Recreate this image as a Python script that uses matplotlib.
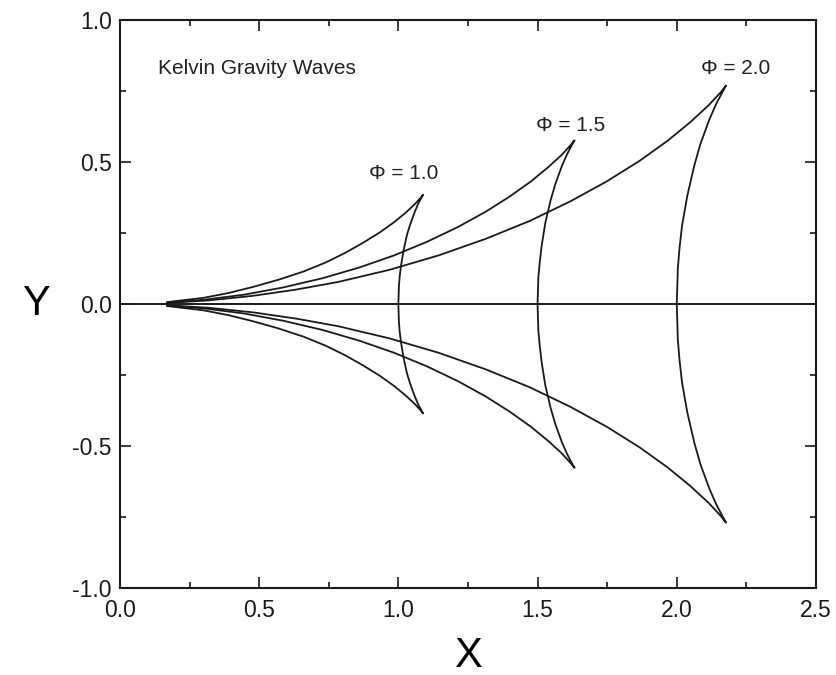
import numpy as np
import matplotlib.pyplot as plt
from matplotlib.ticker import MultipleLocator

plt.rcParams['font.family'] = ['Liberation Sans', 'DejaVu Sans']
plt.rcParams['axes.unicode_minus'] = False

# Upper half of each crest line:
# divergent wave from the start point out to the cusp, then the
# transverse wave from the cusp back down to the axis.
# The lower half is the mirror image.
PHI_LABELS = ['\u03a6 = 1.0', '\u03a6 = 1.5', '\u03a6 = 2.0']

x_phi10 = [0.17, 0.30, 0.39, 0.48, 0.57, 0.66, 0.74, 0.81, 0.875, 0.934,
           0.984, 1.025, 1.057, 1.078, 1.089,
           1.086, 1.071, 1.059, 1.043, 1.031, 1.019, 1.010, 1.005, 1.002, 1.0]
y_phi10 = [0.007, 0.022, 0.039, 0.061, 0.086, 0.115, 0.147, 0.181, 0.217, 0.253,
           0.288, 0.321, 0.350, 0.372, 0.385,
           0.381, 0.353, 0.325, 0.282, 0.244, 0.191, 0.138, 0.099, 0.063, 0.0]

x_phi15 = [0.17, 0.30, 0.445, 0.588, 0.727, 0.860, 0.986, 1.104, 1.213, 1.313,
           1.400, 1.476, 1.538, 1.586, 1.617, 1.633,
           1.629, 1.607, 1.588, 1.564, 1.547, 1.528, 1.515, 1.508, 1.503, 1.5]
y_phi15 = [0.005, 0.015, 0.033, 0.059, 0.091, 0.129, 0.172, 0.220, 0.271, 0.325,
           0.379, 0.432, 0.482, 0.525, 0.558, 0.577,
           0.571, 0.530, 0.488, 0.423, 0.366, 0.287, 0.207, 0.148, 0.095, 0.0]

x_phi20 = [0.17, 0.319, 0.477, 0.632, 0.784, 0.969, 1.146, 1.314, 1.472, 1.618,
           1.750, 1.867, 1.968, 2.050, 2.114, 2.156, 2.177,
           2.172, 2.142, 2.117, 2.085, 2.063, 2.038, 2.019, 2.010, 2.004, 2.0]
y_phi20 = [0.004, 0.013, 0.029, 0.051, 0.078, 0.121, 0.172, 0.230, 0.293, 0.362,
           0.433, 0.505, 0.576, 0.642, 0.700, 0.744, 0.770,
           0.761, 0.706, 0.650, 0.564, 0.488, 0.382, 0.276, 0.198, 0.126, 0.0]

# label anchor (centre of the text) for each phi
label_x = [1.02, 1.62, 2.21]
label_y = [0.46, 0.63, 0.83]


def main():
    fig = plt.figure(figsize=(8.36, 6.75), dpi=100)
    ax = fig.add_axes([0.1435, 0.129, 0.8325, 0.841])

    curves = [(x_phi10, y_phi10), (x_phi15, y_phi15), (x_phi20, y_phi20)]
    for xs, ys in curves:
        xs = np.array(xs)
        ys = np.array(ys)
        ax.plot(xs, ys, color='#1a1a1a', lw=1.3)
        ax.plot(xs, -ys, color='#1a1a1a', lw=1.3)

    ax.axhline(0.0, color='#1a1a1a', lw=1.4)

    for lab, lx, ly in zip(PHI_LABELS, label_x, label_y):
        ax.text(lx, ly, lab, fontsize=15, ha='center', va='center', color='#222222')

    ax.text(0.135, 0.83, 'Kelvin Gravity Waves', fontsize=15, ha='left',
            va='center', color='#222222')

    ax.set_xlim(0.0, 2.5)
    ax.set_ylim(-1.0, 1.0)
    ax.xaxis.set_major_locator(MultipleLocator(0.5))
    ax.xaxis.set_minor_locator(MultipleLocator(0.25))
    ax.yaxis.set_major_locator(MultipleLocator(0.5))
    ax.yaxis.set_minor_locator(MultipleLocator(0.25))
    ax.tick_params(which='both', direction='in', top=True, right=True,
                   labelsize=16.5, colors='#1a1a1a', width=1.2)
    ax.tick_params(which='major', length=8)
    ax.tick_params(axis='x', which='major', pad=8)
    ax.tick_params(axis='y', which='major', pad=6)
    ax.tick_params(which='minor', length=4)
    for sp in ax.spines.values():
        sp.set_linewidth(1.5)
        sp.set_color('#1a1a1a')

    ax.set_xlabel('X', fontsize=30, labelpad=10)
    ax.set_ylabel('Y', fontsize=30, rotation=0, labelpad=26, va='center')

    fig.savefig('out.png', dpi=100, facecolor='white')


if __name__ == "__main__":
    main()
